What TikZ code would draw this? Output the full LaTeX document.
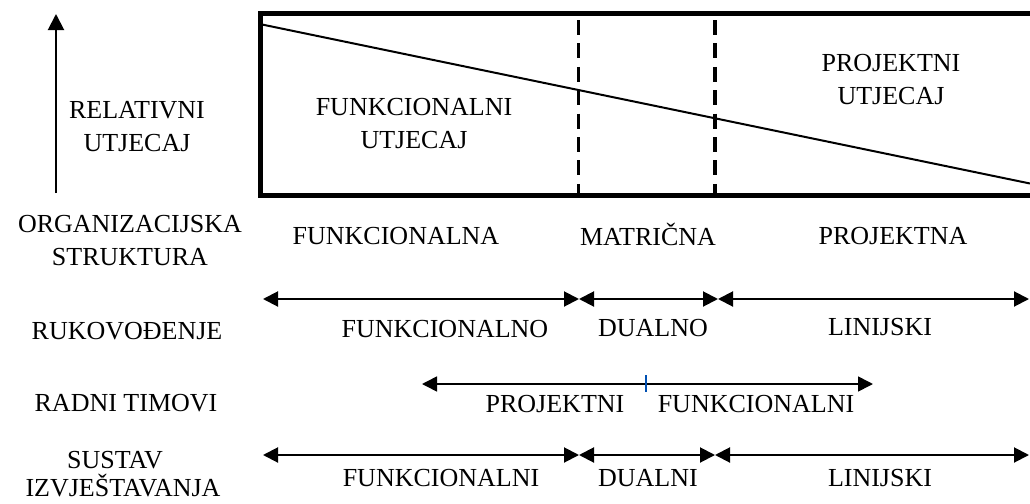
\documentclass[tikz,border=0pt]{standalone}
\usepackage{fontspec}
\setmainfont{Liberation Serif}
\usetikzlibrary{arrows.meta}
\colorlet{tickblue}{blue!55!cyan!70!black}

\begin{document}
\begin{tikzpicture}[
        x=0.5pt, y=-0.5pt,
        every node/.style={font=\fontsize{13}{16.5}\selectfont, align=center, inner sep=0pt},
        span/.style={{Triangle[length=7.5pt,width=7.5pt]}-{Triangle[length=7.5pt,width=7.5pt]}, line width=1pt}
    ]
        \useasboundingbox (0,0) rectangle (1030,504);

        % box with the two influences
        \draw [line width=2.5pt] (1030,13) -- (260.5,13) -- (260.5,195) -- (1030,195);
        \draw [line width=1pt] (262,24.5) -- (1030,183.5);
        \foreach \x in {578.5,715} {
            \draw [dash pattern=on 7.5pt off 4.2pt, line width=1.6pt] (\x,20) -- (\x,194);
        }

        \coordinate (axlow) at (56,193);
        \coordinate (axtop) at (56,14);
        \draw [-{Triangle[length=8pt,width=8pt]}, line width=1pt] (axlow) -- (axtop);

        \node (relat) at (137,127) {RELATIVNI\\UTJECAJ};
        \node (funut) at (414,124) {FUNKCIONALNI\\UTJECAJ};
        \node (projut) at (891,80) {PROJEKTNI\\UTJECAJ};

        % row labels
        \node (org) at (130,241) {ORGANIZACIJSKA\\STRUKTURA};
        \node (ruk) at (127,331) {RUKOVOĐENJE};
        \node (radni) at (126,403) {RADNI TIMOVI};
        \node (sustav) [font=\fontsize{13}{14}\selectfont] at (123,474) {SUSTAV\kern8pt\\IZVJEŠTAVANJA};

        % organizacijska struktura
        \node (funkna) at (396,236) {FUNKCIONALNA};
        \node (matr) at (648,234) {MATRIČNA};
        \node (projna) at (893,236) {PROJEKTNA};

        % rukovodjenje
        \foreach \n/\x in {a/263,b/579,c/718,d/1029} {
            \coordinate (ruk\n) at (\x,299);
        }
        \draw [span] (ruka) -- (rukb);
        \draw [span] (rukb) -- (rukc);
        \draw [span] (rukc) -- (rukd);
        \node (rukfun) at (445,329) {FUNKCIONALNO};
        \node (rukdual) at (653,328) {DUALNO};
        \node (ruklin) at (880,327) {LINIJSKI};

        % radni timovi
        \coordinate (tima) at (422,384);
        \coordinate (timb) at (873,384);
        \coordinate (timup) at (646,375);
        \coordinate (timdn) at (646,392);
        \draw [span, line width=0.8pt] (tima) -- (timb);
        \draw [tickblue, line width=0.7pt] (timup) -- (timdn);
        \node (timproj) at (555,404) {PROJEKTNI};
        \node (timfun) at (756,404) {FUNKCIONALNI};

        % sustav izvjestavanja
        \foreach \n/\x in {a/263,b/579,c/715,d/1029} {
            \coordinate (sus\n) at (\x,455);
        }
        \draw [span] (susa) -- (susb);
        \draw [span] (susb) -- (susc);
        \draw [span] (susc) -- (susd);
        \node (susfun) at (441,478) {FUNKCIONALNI};
        \node (susdual) at (648,478) {DUALNI};
        \node (suslin) at (880,478) {LINIJSKI};
    \end{tikzpicture}
\end{document}
